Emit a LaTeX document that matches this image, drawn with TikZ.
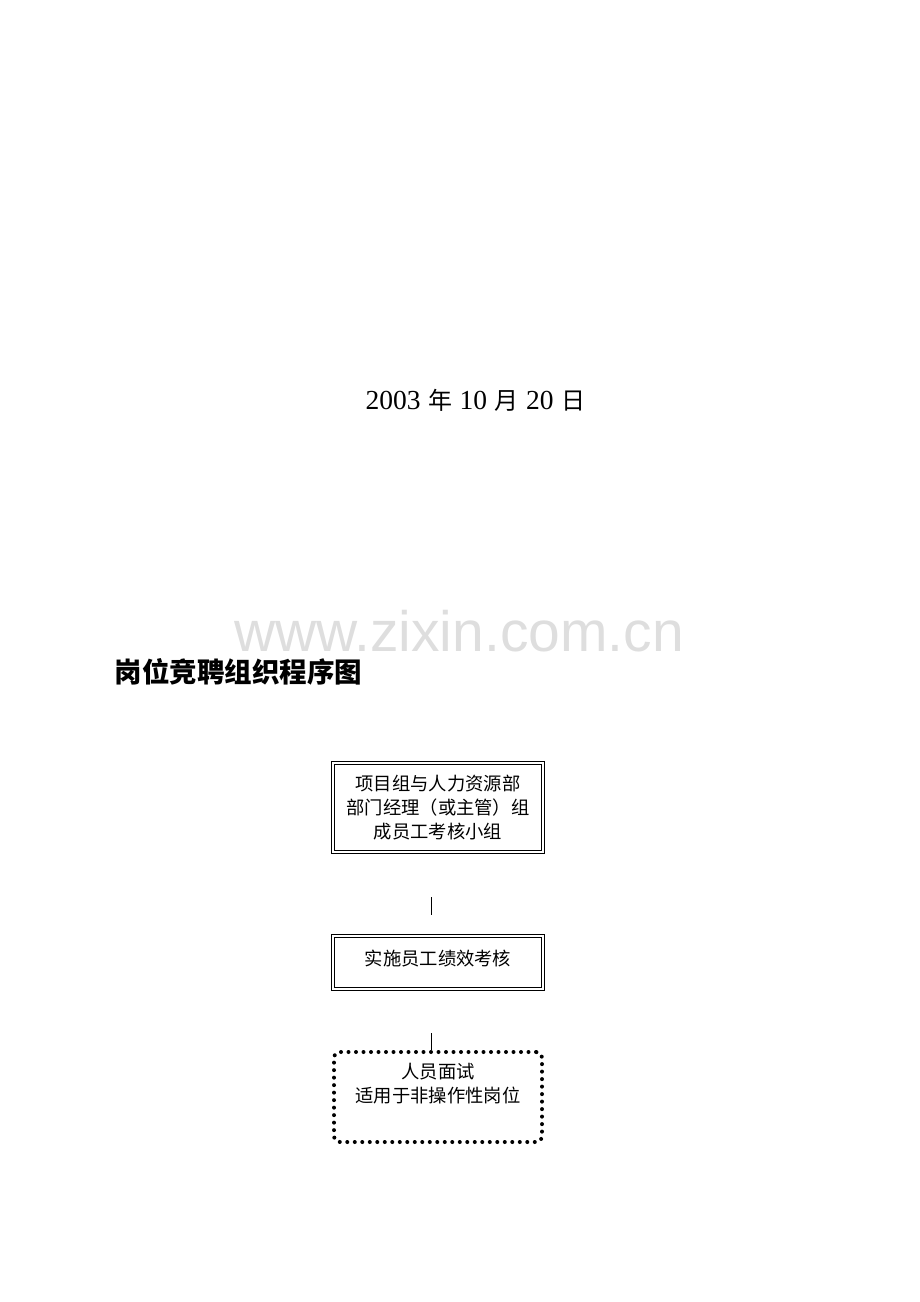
\documentclass[tikz,border=0pt]{standalone}
\usepackage{fontspec}
\setmainfont{Liberation Serif}
\newfontfamily\cjk{Noto Sans CJK SC}
\newfontfamily\wmfont{Liberation Sans}
\usetikzlibrary{positioning}

\newcommand{\datecjk}[1]{\hspace{7.5pt}{\cjk\fontsize{24}{30}\selectfont #1}\hspace{7.5pt}}

\tikzset{
  dblbox/.style={draw, double, line width=0.9pt, double distance=1.6pt,
    minimum width=210pt, align=center, inner sep=0pt,
    font=\cjk\fontsize{18.3}{24}\selectfont},
  dotbox/.style={draw, line width=4pt, line cap=round, dash pattern=on 0pt off 7.5pt,
    rounded corners=6pt, minimum width=208pt, minimum height=90pt, align=center,
    font=\cjk\fontsize{18.3}{24}\selectfont},
  tick/.style={line width=0.8pt}
}

\begin{document}
\begin{tikzpicture}[x=1pt,y=-1pt]
   \useasboundingbox (0,0) rectangle (920,1302);
   \node (date) at (479,400) {\fontsize{27.5}{30}\selectfont 2003\datecjk{年}10\datecjk{月}20\datecjk{日}\hspace{-7.5pt}};
   \node[text=black!13] (mark) at (459,631) {\wmfont\fontsize{57}{60}\selectfont www.zixin.com.cn};
   \node[anchor=west] (title) at (111,672) {\cjk\bfseries\fontsize{27.5}{30}\selectfont 岗位竞聘组织程序图};
   \node[dblbox, minimum height=89pt] (team) at (438,807.5) {项目组与人力资源部\\部门经理（或主管）组\\成员工考核小组};
   \node[dblbox, minimum height=53pt] (eval) at (438,962.5) {\raisebox{9pt}{实施员工绩效考核}};
   \node[dotbox] (talk) at (438,1097) {\raisebox{28pt}{\shortstack{人员面试\\[3.5pt]适用于非操作性岗位}}};
   \coordinate (t1a) at (431,897);
   \coordinate (t1b) at (431,915);
   \coordinate (t2a) at (431,1033);
   \path[tick]
    (t1a) edge (t1b)
    (t2a) edge (t2a |- talk.north);
\end{tikzpicture}
\end{document}
